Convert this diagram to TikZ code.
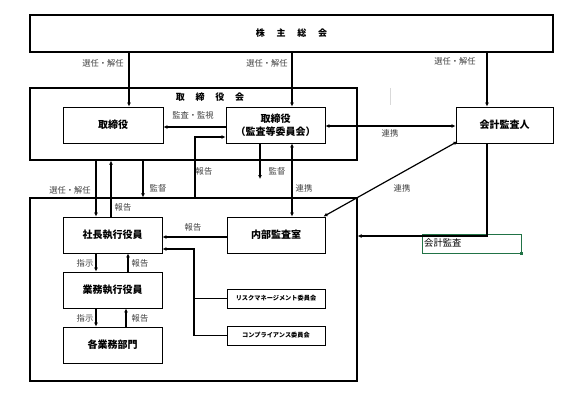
\documentclass[tikz,border=0pt]{standalone}
\usepackage{fontspec}
\setmainfont{Noto Sans CJK JP}
\usetikzlibrary{arrows.meta,calc}
\definecolor{xlgreen}{RGB}{33,115,70}
\begin{document}
\begin{tikzpicture}[x=1pt,y=-1pt,
  box/.style={draw=black,line width=0.9pt,minimum height=36pt,inner sep=0pt,font=\fontsize{10}{11}\selectfont\bfseries},
  bigbox/.style={draw=black,line width=1.3pt,inner sep=0pt},
  smallbox/.style={draw=black,line width=0.9pt,minimum width=98pt,minimum height=19pt,inner sep=0pt,font=\fontsize{6.2}{7}\selectfont\bfseries},
  lbl/.style={font=\fontsize{8.3}{9}\selectfont,text=black!75,inner sep=0pt},
  conn/.style={line width=1.2pt},
  arr/.style={conn,-{Latex[length=4pt,width=4pt]}},
  darr/.style={conn,{Latex[length=4pt,width=4pt]}-{Latex[length=4pt,width=4pt]}}]
\useasboundingbox (0,0) rectangle (583,397);
% main boxes
\node[bigbox,minimum width=523pt,minimum height=37pt,font=\fontsize{9}{10}\selectfont\bfseries] (top) at (291.5,33.5) {株\hspace{1.3em}主\hspace{1.3em}総\hspace{1.3em}会};
\node[bigbox,minimum width=327pt,minimum height=72pt] (board) at (193.5,124) {};
\node[font=\fontsize{9}{10}\selectfont\bfseries,inner sep=0pt] (boardt) at (210,97.5) {取\hspace{1.2em}締\hspace{1.2em}役\hspace{1.2em}会};
\node[bigbox,minimum width=327pt,minimum height=183pt] (exec) at (193.5,289.5) {};
\node[box,minimum width=100pt] (dir) at (113,125) {取締役};
\node[box,minimum width=99pt,align=center] (aud) at (275.5,125) {取締役\\[2pt]（監査等委員会）};
\node[box,minimum width=97pt] (acc) at (504.5,125) {会計監査人};
\node[box,minimum width=99pt] (pres) at (112.5,235) {社長執行役員};
\node[box,minimum width=99pt] (biz) at (112.5,290) {業務執行役員};
\node[box,minimum width=99pt] (dept) at (112.5,345) {各業務部門};
\node[box,minimum width=98pt] (ia) at (276,235) {内部監査室};
\node[smallbox] (risk) at (276,298.5) {リスクマネージメント委員会};
\node[smallbox] (comp) at (276,335.5) {コンプライアンス委員会};
\node[draw=xlgreen,line width=1pt,minimum width=99pt,minimum height=19pt,inner sep=0pt] (cell) at (471.5,243.5) {};
\node[font=\fontsize{9.3}{10}\selectfont,anchor=west,inner sep=0pt] (celltext) at (424,243) {会計監査};
\node[fill=xlgreen,minimum size=3pt,inner sep=0pt] (handle) at (cell.south east) {};
% faint artifact line
\draw[black!15,line width=0.8pt] (390,88) -- (390,105);
% coordinates for vertical connectors
\coordinate (c129) at (129,0);
\coordinate (c292) at (292,0);
\coordinate (c487) at (487,0);
\coordinate (c96) at (96,0);
\coordinate (c111) at (111,0);
\coordinate (c143) at (143,0);
\coordinate (c195) at (195,0);
\coordinate (c260) at (260,0);
\coordinate (c128) at (128,0);
\coordinate (c126) at (126,0);
\coordinate (c194) at (194,0);
\coordinate (y127) at (0,127);
\coordinate (y126) at (0,126);
\coordinate (y137) at (0,137);
\coordinate (y179) at (0,179);
\coordinate (y236) at (0,236);
\coordinate (y237) at (0,237);
\coordinate (y249) at (0,249);
% shareholders -> others
\draw[arr] (top.south -| c129) -- (dir.north -| c129);
\draw[arr] (top.south -| c292) -- (aud.north -| c292);
\draw[arr] (top.south -| c487) -- (acc.north -| c487);
\node[lbl] (l1) at (103,63) {選任・解任};
\node[lbl] (l2) at (267,63) {選任・解任};
\node[lbl] (l3) at (455,61) {選任・解任};
% board internal
\draw[arr] (aud.west |- y127) -- (dir.east |- y127);
\node[lbl] (l4) at (193,115) {監査・監視};
\draw[darr] (aud.east |- y126) -- (acc.west |- y126);
\node[lbl] (l5) at (390,133) {連携};
% board <-> exec
\draw[arr] (board.south -| c96) -- (pres.north -| c96);
\node[lbl] (l6) at (70,190) {選任・解任};
\draw[arr] (pres.north -| c111) -- (board.south -| c111);
\node[lbl] (l7) at (123,207) {報告};
\draw[arr] (board.south -| c143) -- (exec.north -| c143);
\node[lbl] (l8) at (158,188) {監督};
\draw[arr] (exec.north -| c195) -- (c195 |- y137) -- (aud.west |- y137);
\node[lbl] (l9) at (204,171) {報告};
\coordinate (supend) at (c260 |- y179);
\draw[arr] (aud.south -| c260) -- (supend);
\node[lbl] (l10) at (277,171) {監督};
\draw[darr] (ia.north -| c292) -- (aud.south -| c292);
\node[lbl] (l11) at (304,188) {連携};
\draw[darr] ([xshift=-2pt]ia.north east) -- ([xshift=2pt,yshift=2pt]acc.south west);
\node[lbl] (l12) at (402,188) {連携};
\draw[arr] (acc.south -| c487) -- (c487 |- y236) -- (exec.east |- y236);
% exec internal
\draw[arr] (ia.west |- y237) -- (pres.east |- y237);
\node[lbl] (l13) at (193,227) {報告};
\draw[conn] (risk.west) -- (risk.west -| c194);
\draw[arr] (comp.west) -- (comp.west -| c194) -- (c194 |- y249) -- (pres.east |- y249);
\draw[arr] (pres.south -| c96) -- (biz.north -| c96);
\node[lbl] (l14) at (85,263) {指示};
\draw[arr] (biz.north -| c128) -- (pres.south -| c128);
\node[lbl] (l15) at (140,263) {報告};
\draw[arr] (biz.south -| c96) -- (dept.north -| c96);
\node[lbl] (l16) at (85,318) {指示};
\draw[arr] (dept.north -| c126) -- (biz.south -| c126);
\node[lbl] (l17) at (140,318) {報告};
\end{tikzpicture}
\end{document}
